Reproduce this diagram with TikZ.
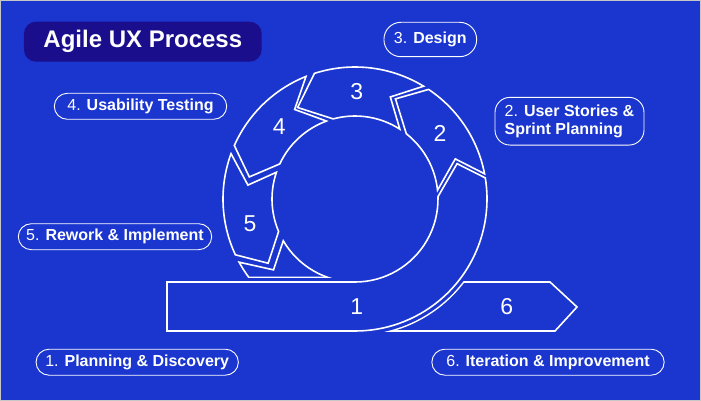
\documentclass[tikz,border=0pt]{standalone}
\usepackage{fontspec}
\setmainfont{Liberation Sans}
\definecolor{bg}{HTML}{1B36CF}
\definecolor{navy}{HTML}{1A0E8C}
\def\rIn{83}
\def\rOut{132}
\def\rMid{108}
\newcommand\ringseg[6]{\path[seg] (#3:\rOut) arc[start angle=#3, end angle=#6, radius=\rOut] -- (#5:\rMid) -- (#4:\rIn) arc[start angle=#4, end angle=#1, radius=\rIn] -- (#2:\rMid) -- cycle;}
\newcommand\bandonepath{(-188,-83) -- (0,-83) arc[start angle=-90, end angle=1.6, radius=\rIn] -- (19.1:\rMid) -- (9.2:\rOut) arc[start angle=9.2, end angle=-90, radius=\rOut] -- (-188,-132) -- cycle}
\newcommand\pieceSixpath{(210.2:\rIn) -- (221:\rMid) -- (208.6:\rOut) arc[start angle=208.6, end angle=270, radius=\rOut] -- (200,-132) -- (222,-108) -- (195,-83) -- (0,-83) arc[start angle=270, end angle=210.2, radius=\rIn] -- cycle}
\begin{document}
\begin{tikzpicture}[x=1pt,y=1pt,
  seg/.style={draw=white, line width=1.6pt, fill=bg, line join=miter},
  num/.style={font=\fontsize{23}{23}\selectfont, text=white, inner sep=0pt},
  pill/.style={draw=white, line width=0.9pt, rounded corners=13pt, text=white,
    font=\fontsize{16}{18}\selectfont, inner sep=0pt, minimum height=26pt}]
\useasboundingbox (0,0) rectangle (701,-401);
\fill[bg] (0,0) rectangle (701,-401);
\draw[black!22, line width=1pt] (0.5,-0.5) rectangle (700.5,-400.5);

\begin{scope}[shift={(355,-199)}]
  % piece 6 (behind band 1)
  \path[seg] \pieceSixpath;
  \begin{scope}
    \clip \pieceSixpath;
    \draw[white, line width=11pt] \bandonepath;
  \end{scope}
  \draw[bg, line width=8pt] \bandonepath;
  % band 1
  \path[seg] \bandonepath;
  % ring segments 2..5
  \ringseg{6.1}{21.8}{11.0}{51.8}{68}{56.1}
  \ringseg{57.3}{70.9}{58.7}{105.2}{122.1}{107.9}
  \ringseg{110.1}{124}{111.8}{155}{168.2}{156.1}
  \ringseg{161.2}{172.6}{159.9}{203}{216.5}{205}
\end{scope}

\node[num] (n1) at (356.7,-306.7) {1};
\node[num] (n6) at (506.7,-306.7) {6};
\node[num] (n2) at (440,-133.3) {2};
\node[num] (n3) at (356.7,-91.7) {3};
\node[num] (n4) at (279.3,-126.7) {4};
\node[num] (n5) at (250,-223.3) {5};

\node[fill=navy, rounded corners=12pt, minimum width=237.7pt, minimum height=40pt,
  inner sep=0pt, text=white, font=\fontsize{24}{24}\selectfont\bfseries]
  (title) at (142.8,-41.7) {Agile UX Process};

\node[pill, minimum width=92.7pt, minimum height=34.4pt, rounded corners=17pt] (l3) at (430.3,-39.5) {3. \textbf{Design}};
\node[pill, minimum width=149pt, minimum height=47.7pt, rounded corners=15pt, align=left] (l2) at (569.5,-121.2) {2. \textbf{User Stories \&}\\\textbf{Sprint Planning}};
\node[pill, minimum width=172.4pt] (l4) at (140.5,-106.3) {4. \textbf{Usability Testing}};
\node[pill, minimum width=193.4pt] (l5) at (115,-236.7) {5. \textbf{Rework \& Implement}};
\node[pill, minimum width=202.3pt] (l1) at (137.2,-362.2) {1. \textbf{Planning \& Discovery}};
\node[pill, minimum width=232.3pt] (l6) at (548,-362.2) {6. \textbf{Iteration \& Improvement}};
\end{tikzpicture}
\end{document}
